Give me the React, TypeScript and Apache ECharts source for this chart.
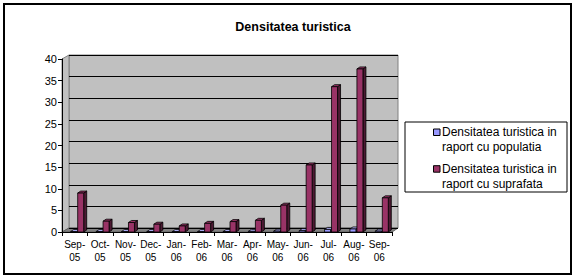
import React, { useEffect, useRef } from "react";
import * as echarts from "echarts";

const categories = ["Sep-05", "Oct-05", "Nov-05", "Dec-05", "Jan-06", "Feb-06", "Mar-06", "Apr-06", "May-06", "Jun-06", "Jul-06", "Aug-06", "Sep-06"];
const populatia = [0.1, 0.1, 0.1, 0.1, 0.1, 0.1, 0.1, 0.15, 0.2, 0.3, 0.6, 0.7, 0.2];
const suprafata = [9.0, 2.5, 2.2, 1.8, 1.4, 2.0, 2.4, 2.7, 6.2, 15.5, 33.6, 37.7, 7.9];
const seriesNames = ["Densitatea turistica in raport cu populatia", "Densitatea turistica in raport cu suprafata"];
const seriesColors = ["#9999FF", "#993366"];
const yTicks = { min: 0, max: 40, interval: 5 };

const make3DBar = (offset: number, width: number, front: string, side: string, topc: string) =>
  (params: any, api: any) => {
    const i = api.value(0);
    const v = api.value(1);
    const top = api.coord([i, v]);
    const base = api.coord([i, 0]);
    const x0 = top[0] + offset;
    const x1 = x0 + width;
    const yT = top[1];
    const yB = base[1];
    const dx = 3;
    const dy = -2;
    const st = { stroke: "#000", lineWidth: 0.8 };
    return {
      type: "group",
      children: [
        { type: "polygon", shape: { points: [[x1, yB], [x1 + dx, yB + dy], [x1 + dx, yT + dy], [x1, yT]] }, style: { fill: side, ...st } },
        { type: "polygon", shape: { points: [[x0, yT], [x0 + dx, yT + dy], [x1 + dx, yT + dy], [x1, yT]] }, style: { fill: topc, ...st } },
        { type: "rect", shape: { x: x0, y: yT, width: width, height: yB - yT }, style: { fill: front, ...st } },
      ],
    };
  };

export default function App() {
  const ref = useRef<HTMLDivElement>(null);
  useEffect(() => {
    document.body.style.margin = "0";
    const chart = echarts.init(ref.current!, null, { renderer: "svg" });
    const font = "Liberation Sans, Arial, sans-serif";
    const legendItems: any[] = [];
    seriesNames.forEach((n, k) => {
      const y0 = 124.5 + k * 36.7;
      legendItems.push({
        type: "rect", z: 101,
        shape: { x: 433.5, y: y0 + 4.5, width: 6.5, height: 6.5 },
        style: { fill: seriesColors[k], stroke: "#000", lineWidth: 1 },
      });
      legendItems.push({
        type: "text", z: 101, x: 442, y: y0,
        style: {
          text: n.replace(" raport", "\nraport"),
          font: "12px " + font,
          fill: "#000",
          lineHeight: 15,
          verticalAlign: "top",
        },
      });
    });
    chart.setOption({
      animation: false,
      backgroundColor: "#fff",
      textStyle: { fontFamily: font },
      title: {
        text: "Densitatea turistica",
        left: 288,
        textAlign: "center",
        top: 15,
        textStyle: { fontSize: 12.5, fontWeight: "bold", color: "#000", fontFamily: font },
      },
      graphic: [
        { type: "rect", z: 100, shape: { x: 4, y: 4, width: 567, height: 270 }, style: { fill: "none", stroke: "#000", lineWidth: 2 } },
        { type: "rect", z: 100, shape: { x: 405, y: 122, width: 162, height: 70 }, style: { fill: "#fff", stroke: "#000", lineWidth: 1 } },
        ...legendItems,
        { type: "polygon", z: 0, shape: { points: [[62, 59], [69, 55], [69, 228], [62, 232]] }, style: { fill: "#C0C0C0", stroke: "#808080", lineWidth: 1 } },
        { type: "polygon", z: 0, shape: { points: [[62, 232], [69, 228], [398, 228], [392, 232]] }, style: { fill: "#808080", stroke: "#606060", lineWidth: 1 } },
      ],
      grid: [
        { left: 69, top: 55, width: 329, height: 173, show: true, backgroundColor: "#C0C0C0", borderColor: "#808080", borderWidth: 1, z: -1 },
        { left: 62, top: 59, width: 330, height: 173 },
      ],
      xAxis: [
        { gridIndex: 0, type: "category", data: categories, show: false },
        {
          gridIndex: 1,
          type: "category",
          data: categories,
          axisLine: { lineStyle: { color: "#000", width: 1 } },
          axisTick: { show: true, interval: 0, length: 4, alignWithLabel: false, lineStyle: { color: "#000" } },
          axisLabel: {
            interval: 0,
            color: "#000",
            fontSize: 10,
            lineHeight: 13,
            margin: 6,
            fontFamily: font,
            formatter: (v: string) => v.replace("-", "-\n"),
          },
        },
      ],
      yAxis: [
        {
          gridIndex: 0, type: "value", ...yTicks,
          axisLabel: { show: false }, axisLine: { show: false }, axisTick: { show: false },
          splitLine: { show: true, lineStyle: { color: "#000", width: 1 } },
        },
        {
          gridIndex: 1, type: "value", ...yTicks,
          axisLine: { show: true, lineStyle: { color: "#000" } },
          axisTick: { show: true, length: 4, lineStyle: { color: "#000" } },
          axisLabel: { color: "#000", fontSize: 11, margin: 5, fontFamily: font },
          splitLine: { show: false },
        },
      ],
      series: [
        {
          name: seriesNames[0],
          type: "custom",
          xAxisIndex: 1,
          yAxisIndex: 1,
          z: 5,
          itemStyle: { color: seriesColors[0] },
          data: populatia.map((v, i) => [i, v]),
          encode: { x: 0, y: 1 },
          renderItem: make3DBar(-4, 6, "#9999FF", "#4D4D80", "#B3B3FF"),
        },
        {
          name: seriesNames[1],
          type: "custom",
          xAxisIndex: 1,
          yAxisIndex: 1,
          z: 5,
          itemStyle: { color: seriesColors[1] },
          data: suprafata.map((v, i) => [i, v]),
          encode: { x: 0, y: 1 },
          renderItem: make3DBar(3, 6, "#993366", "#4D1A33", "#993366"),
        },
      ],
    });
    return () => chart.dispose();
  }, []);
  return <div ref={ref} style={{ width: 576, height: 280 }} />;
}
